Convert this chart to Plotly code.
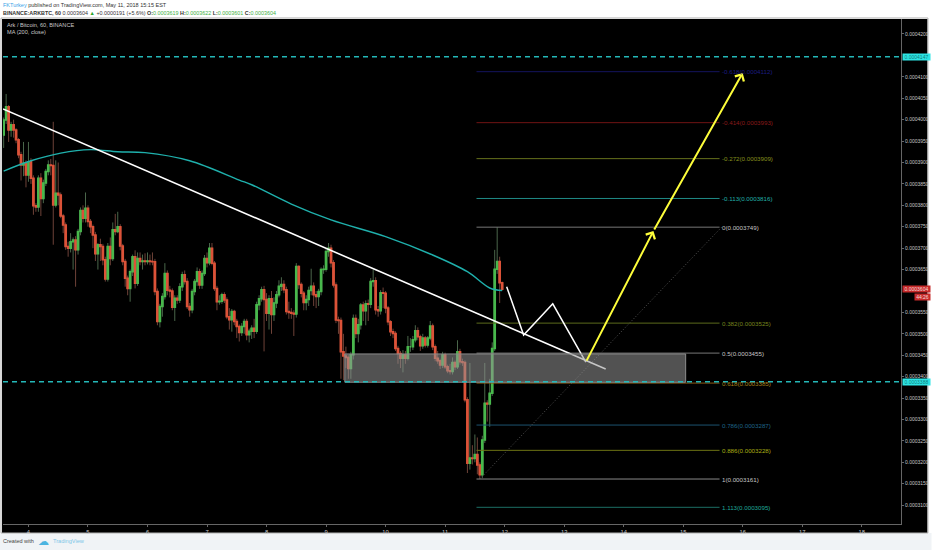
import numpy as np
import pandas as pd
import plotly.graph_objects as go

# Prices are kept in units of 1e-7 BTC
first_open = 3964
closes = [
    3999, 4030, 3976, 3988, 3976, 3953, 3918, 3894, 3898, 3871,
    3902, 3863, 3799, 3796, 3863, 3816, 3852, 3879, 3894, 3893,
    3801, 3828, 3824, 3775, 3754, 3704, 3700, 3715, 3719, 3696,
    3739, 3788, 3770, 3793, 3762, 3750, 3731, 3687, 3708, 3704,
    3673, 3628, 3704, 3676, 3743, 3739, 3750, 3705, 3669, 3630,
    3606, 3645, 3680, 3618, 3676, 3669, 3670, 3669, 3670, 3669,
    3668, 3599, 3529, 3564, 3587, 3641, 3602, 3600, 3562, 3583,
    3579, 3610, 3638, 3622, 3564, 3556, 3599, 3622, 3645, 3614,
    3641, 3676, 3666, 3700, 3665, 3606, 3575, 3576, 3591, 3579,
    3540, 3533, 3552, 3529, 3517, 3503, 3517, 3529, 3498, 3506,
    3513, 3506, 3568, 3582, 3603, 3580, 3548, 3582, 3545, 3572,
    3591, 3611, 3615, 3603, 3552, 3550, 3548, 3546, 3657, 3615,
    3595, 3573, 3580, 3601, 3611, 3591, 3587, 3599, 3650, 3651,
    3692, 3700, 3666, 3614, 3532, 3531, 3458, 3448, 3445, 3419,
    3451, 3536, 3501, 3521, 3567, 3554, 3570, 3569, 3622, 3624,
    3556, 3554, 3596, 3595, 3560, 3528, 3505, 3501, 3466, 3454,
    3443, 3451, 3443, 3470, 3470, 3486, 3507, 3493, 3472, 3490,
    3474, 3490, 3518, 3470, 3443, 3437, 3427, 3451, 3423, 3414,
    3412, 3433, 3423, 3458, 3435, 3433, 3346, 3198, 3210, 3209,
    3218, 3194, 3171, 3252, 3338, 3336, 3361, 3466, 3651, 3669,
    3619, 3604,
]
highs = [
    4005, 4060, 4034, 3995, 4000, 3980, 3957, 3925, 3948, 3905,
    3948, 3910, 3870, 3805, 3870, 3875, 3860, 3885, 3905, 3908,
    3995, 3905, 3900, 3830, 3780, 3760, 3715, 3735, 3725, 3728,
    3745, 3795, 3800, 3830, 3800, 3768, 3755, 3738, 3712, 3722,
    3710, 3680, 3712, 3725, 3760, 3780, 3785, 3756, 3710, 3675,
    3636, 3650, 3685, 3695, 3690, 3690, 3685, 3688, 3690, 3685,
    3690, 3675, 3606, 3570, 3595, 3665, 3648, 3612, 3606, 3590,
    3590, 3618, 3645, 3648, 3630, 3572, 3605, 3628, 3655, 3652,
    3648, 3684, 3690, 3712, 3712, 3670, 3612, 3590, 3596, 3597,
    3585, 3560, 3558, 3556, 3535, 3522, 3525, 3535, 3535, 3512,
    3520, 3535, 3575, 3590, 3610, 3612, 3595, 3590, 3600, 3585,
    3600, 3625, 3632, 3625, 3610, 3575, 3560, 3555, 3665, 3660,
    3620, 3600, 3590, 3610, 3652, 3620, 3600, 3605, 3655, 3660,
    3698, 3712, 3708, 3672, 3620, 3540, 3538, 3500, 3470, 3450,
    3458, 3545, 3545, 3535, 3572, 3575, 3578, 3580, 3630, 3650,
    3632, 3565, 3602, 3608, 3600, 3565, 3532, 3512, 3506, 3472,
    3460, 3462, 3460, 3495, 3490, 3495, 3520, 3515, 3498, 3500,
    3495, 3495, 3530, 3524, 3475, 3460, 3442, 3458, 3456, 3428,
    3430, 3445, 3438, 3485, 3465, 3442, 3438, 3352, 3432, 3240,
    3265, 3258, 3200, 3262, 3432, 3345, 3395, 3480, 3696, 3749,
    3680, 3622,
]
lows = [
    3934, 3990, 3948, 3960, 3958, 3945, 3910, 3858, 3868, 3842,
    3855, 3850, 3778, 3785, 3785, 3775, 3805, 3845, 3870, 3870,
    3708, 3795, 3800, 3770, 3735, 3696, 3680, 3690, 3650, 3610,
    3685, 3730, 3760, 3760, 3750, 3735, 3700, 3670, 3650, 3670,
    3660, 3622, 3622, 3660, 3670, 3730, 3735, 3695, 3660, 3610,
    3590, 3575, 3635, 3606, 3612, 3660, 3650, 3660, 3662, 3660,
    3660, 3590, 3520, 3515, 3540, 3580, 3590, 3585, 3555, 3530,
    3570, 3572, 3600, 3615, 3558, 3540, 3548, 3590, 3612, 3605,
    3605, 3635, 3655, 3660, 3660, 3600, 3555, 3568, 3570, 3572,
    3534, 3510, 3505, 3520, 3490, 3482, 3495, 3500, 3485, 3480,
    3488, 3490, 3500, 3555, 3575, 3459, 3530, 3510, 3500, 3530,
    3560, 3585, 3600, 3595, 3545, 3535, 3535, 3495, 3538, 3605,
    3585, 3555, 3555, 3565, 3590, 3565, 3560, 3565, 3590, 3640,
    3645, 3680, 3655, 3608, 3525, 3500, 3395, 3392, 3420, 3395,
    3395, 3440, 3490, 3480, 3510, 3530, 3520, 3530, 3560, 3610,
    3545, 3540, 3545, 3560, 3548, 3520, 3495, 3490, 3460, 3430,
    3420, 3410, 3430, 3438, 3458, 3462, 3480, 3485, 3460, 3465,
    3468, 3468, 3485, 3462, 3436, 3430, 3418, 3420, 3418, 3408,
    3405, 3405, 3415, 3418, 3428, 3425, 3340, 3175, 3183, 3195,
    3200, 3172, 3161, 3163, 3245, 3295, 3283, 3355, 3460, 3640,
    3572, 3601,
]

# MA(200) read at a handful of candles
ma_candles = [0, 11, 23, 35, 46, 57, 75, 95, 100, 116, 132, 154, 173, 187, 196, 201]
ma_values = [3880, 3904, 3922, 3930, 3925, 3923, 3904, 3859, 3848, 3803, 3766, 3727, 3684, 3645, 3607, 3601]

# drawings on the chart
trend_x = ["2018-05-03 13:44", "2018-05-13 16:45"]
trend_y = [4025, 3418]
path_x = ["2018-05-12 00:50", "2018-05-12 07:40", "2018-05-12 19:25", "2018-05-13 08:45"]
path_y = [3610, 3497, 3570, 3434]
arrow_x = ["2018-05-13 08:45", "2018-05-14 12:00", "2018-05-16 00:00"]
arrow_y = [3434, 3740, 4109]
fib_diag_x = ["2018-05-11 14:00", "2018-05-15 15:30"]
fib_diag_y = [3161, 3749]
box_x = ["2018-05-09 07:34", "2018-05-15 01:00"]
box_y = [3387, 3453]
resistance = 4147
support = 3388

fib_start = "2018-05-11 12:40"
fib_end = "2018-05-15 14:40"
fib_ratios = ["-0.618", "-0.414", "-0.272", "-0.113", "0", "0.382", "0.5", "0.618", "0.786", "0.886", "1", "1.113"]
fib_prices = [4112, 3993, 3909, 3816, 3749, 3525, 3455, 3385, 3287, 3228, 3161, 3095]
fib_line_colors = ["#14145e", "#701414", "#66701c", "#1f8a86", "#777777", "#5c6a1c", "#777777", "#8a5a14",
                   "#1c5270", "#6e7414", "#8a8a8a", "#1c6e64"]
fib_text_colors = ["#1c1c80", "#8a1a1a", "#87901e", "#20b0a8", "#c4c4c4", "#74841e", "#c4c4c4", "#a8801a",
                   "#1f6488", "#a8ae14", "#c4c4c4", "#1fa898"]

# 4150 and 3600 sit behind the price tags in the picture
y_ticks = [3100, 3150, 3200, 3250, 3300, 3350, 3400, 3450, 3500, 3550, 3650, 3700, 3750, 3800, 3850,
           3900, 3950, 4000, 4050, 4100, 4200]
x_tick_days = list(range(4, 19))


def px(values):
    return np.array(values, dtype=float) * 1e-7


UP = "#48b84c"
DOWN = "#dc5238"
TEAL = "#1fb0ac"
CYAN = "#24b8b8"
WHITE_TXT = "#c8c8c8"
FONT = "Liberation Sans"

times = pd.date_range("2018-05-03 14:00", periods=len(closes), freq="h")
opens = [first_open] + closes[:-1]
body_top = [max(o, c) for o, c in zip(opens, closes)]
body_bot = [min(o, c) for o, c in zip(opens, closes)]

fig = go.Figure()

# wicks are much dimmer than bodies in the picture, so two candle traces
fig.add_trace(go.Candlestick(
    x=times, open=px(opens), high=px(highs), low=px(lows), close=px(closes),
    increasing=dict(line=dict(color="#4a664a", width=1), fillcolor="#4a664a"),
    decreasing=dict(line=dict(color="#6e4238", width=1), fillcolor="#6e4238"),
    whiskerwidth=0, hoverinfo="skip", showlegend=False,
))
fig.add_trace(go.Candlestick(
    x=times, open=px(opens), high=px(body_top), low=px(body_bot), close=px(closes),
    increasing=dict(line=dict(color=UP, width=1.5), fillcolor=UP),
    decreasing=dict(line=dict(color=DOWN, width=1.5), fillcolor=DOWN),
    whiskerwidth=0, hoverinfo="skip", showlegend=False,
))

fig.add_trace(go.Scatter(x=times[ma_candles], y=px(ma_values), mode="lines", hoverinfo="skip",
                         line=dict(color=TEAL, width=1.4, shape="spline"), showlegend=False))

# support/resistance box
fig.add_shape(type="rect", xref="x", yref="y", x0=box_x[0], x1=box_x[1],
              y0=px(box_y)[0], y1=px(box_y)[1], layer="above",
              fillcolor="rgba(150,150,150,0.55)", line=dict(color="#8c8c8c", width=1))

# fib levels
for price, color in zip(fib_prices, fib_line_colors):
    fig.add_trace(go.Scatter(x=[fib_start, fib_end], y=px([price, price]), mode="lines", hoverinfo="skip",
                             line=dict(color=color, width=1), showlegend=False))
fig.add_trace(go.Scatter(x=fib_diag_x, y=px(fib_diag_y), mode="lines", hoverinfo="skip",
                         line=dict(color="#555555", width=1, dash="1px,2px"), showlegend=False))

# dashed horizontals
for level in [resistance, support]:
    fig.add_hline(y=level * 1e-7, line=dict(color=CYAN, width=1.4, dash="5px,4px"), layer="above")

fig.add_trace(go.Scatter(x=trend_x, y=px(trend_y), mode="lines", hoverinfo="skip",
                         line=dict(color="#ffffff", width=1.6), showlegend=False))
fig.add_trace(go.Scatter(x=path_x, y=px(path_y), mode="lines", hoverinfo="skip",
                         line=dict(color="#ffffff", width=1.5), showlegend=False))

# yellow target arrows
for i in range(2):
    fig.add_annotation(x=arrow_x[i + 1], y=arrow_y[i + 1] * 1e-7, ax=arrow_x[i], ay=arrow_y[i] * 1e-7,
                       xref="x", yref="y", axref="x", ayref="y", text="", showarrow=True,
                       arrowhead=4, arrowsize=1, arrowwidth=2, arrowcolor="#fdfd3a")

for ratio, price, color in zip(fib_ratios, fib_prices, fib_text_colors):
    fig.add_annotation(x=fib_end, y=price * 1e-7, xref="x", yref="y", xanchor="left", xshift=0,
                       text=f"{ratio}(0.000{price})", showarrow=False,
                       font=dict(family=FONT, size=6.2, color=color))

# price tags on the axis
for price, bg, fg in [(4147, "#2de4e4", "#0c7c7c"), (3604, "#c62a2a", "#f4dada"), (3388, "#2de4e4", "#0c7c7c")]:
    fig.add_annotation(x=1.0, y=price * 1e-7, xref="paper", yref="y", xanchor="left", xshift=0.5,
                       text=f"0.000{price}", showarrow=False, bgcolor=bg, borderpad=0, width=27,
                       font=dict(family=FONT, size=5, color=fg))
fig.add_annotation(x=1.014, y=3585 * 1e-7, xref="paper", yref="y", xanchor="left", text="44:26",
                   showarrow=False, bgcolor="#c62a2a", borderpad=0, width=15,
                   font=dict(family=FONT, size=5, color="#f4dada"))

# chart legend
fig.add_annotation(x=0.0025, y=0.9975, xref="paper", yref="paper", xanchor="left", yanchor="top", showarrow=False,
                   align="left", text="Ark / Bitcoin, 60, BINANCE<br>MA (200, close)",
                   font=dict(family=FONT, size=5.6, color=WHITE_TXT))

# header and footer
fig.add_annotation(x=0, y=1.0277, xref="paper", yref="paper", xanchor="left", yanchor="middle", showarrow=False,
                   xshift=-2,
                   text="<span style='color:#3ba3e8'>FKTurkey</span> published on TradingView.com, May 11, 2018 15:15 EST",
                   font=dict(family=FONT, size=5.5, color="#333333"))
fig.add_annotation(x=0, y=1.012, xref="paper", yref="paper", xanchor="left", yanchor="middle", showarrow=False,
                   xshift=-2,
                   text="<b>BINANCE:ARKBTC, 60</b> 0.0003604 <span style='color:#2aa52a'>▲</span> +0.0000191 (+5.6%) "
                        "<b>O:</b><span style='color:#3cb043'>0.0003619</span> "
                        "<b>H:</b><span style='color:#3cb043'>0.0003622</span> "
                        "<b>L:</b><span style='color:#3cb043'>0.0003601</span> "
                        "<b>C:</b><span style='color:#3cb043'>0.0003604</span>",
                   font=dict(family=FONT, size=5.4, color="#333333"))
fig.add_annotation(x=0, y=-0.0345, xref="paper", yref="paper", xanchor="left", yanchor="middle", showarrow=False,
                   xshift=-2, text="Created with", font=dict(family=FONT, size=5.5, color="#444444"))
fig.add_annotation(x=0.0455, y=-0.0345, xref="paper", yref="paper", xanchor="center", yanchor="middle",
                   showarrow=False, text="☁", font=dict(family="DejaVu Sans", size=11, color="#4cb4e0"))
fig.add_annotation(x=0.0535, y=-0.0345, xref="paper", yref="paper", xanchor="left", yanchor="middle",
                   showarrow=False, text="TradingView", font=dict(family=FONT, size=5.6, color="#7cc6e8"))

# black panel behind the axes, grey page strip below, thin border around
fig.add_shape(type="rect", xref="paper", yref="paper", x0=-0.0011, x1=1.0295, y0=-0.0178, y1=1.0, layer="below",
              fillcolor="#000000", line=dict(width=0))
fig.add_shape(type="rect", xref="paper", yref="paper", x0=-0.0034, x1=1.0340, y0=-0.0535, y1=-0.0178, layer="below",
              fillcolor="#f0f3f6", line=dict(width=0))
fig.add_shape(type="rect", xref="paper", yref="paper", x0=-0.0022, x1=1.0300, y0=-0.0178, y1=1.0020, layer="below",
              fillcolor="rgba(0,0,0,0)", line=dict(color="#b0b0b0", width=1))

fig.update_layout(
    width=932, height=550,
    margin=dict(l=3, r=30.5, t=19, b=26, pad=0),
    paper_bgcolor="#ffffff",
    plot_bgcolor="#000000",
    showlegend=False,
    hovermode=False,
    xaxis=dict(
        type="date",
        range=["2018-05-03 13:44", "2018-05-18 15:50"],
        tickvals=[f"2018-05-{d:02d}" for d in x_tick_days],
        ticktext=[str(d) for d in x_tick_days],
        showgrid=False, zeroline=False, rangeslider=dict(visible=False),
        showline=True, linecolor="#666666", linewidth=1,
        ticks="outside", ticklen=2, tickcolor="#666666",
        tickfont=dict(family=FONT, size=5.8, color=WHITE_TXT),
    ),
    yaxis=dict(
        side="right",
        range=[3056e-7, 4235e-7],
        tickvals=px(y_ticks),
        ticktext=[f"0.000{v}" for v in y_ticks],
        showgrid=False, zeroline=False,
        showline=True, linecolor="#666666", linewidth=1,
        ticks="outside", ticklen=2, tickcolor="#666666",
        tickfont=dict(family=FONT, size=5, color=WHITE_TXT),
    ),
)

fig.write_html("out.html", config={"displayModeBar": False},
               post_script="document.body.style.margin='0';document.body.style.overflow='hidden';")
